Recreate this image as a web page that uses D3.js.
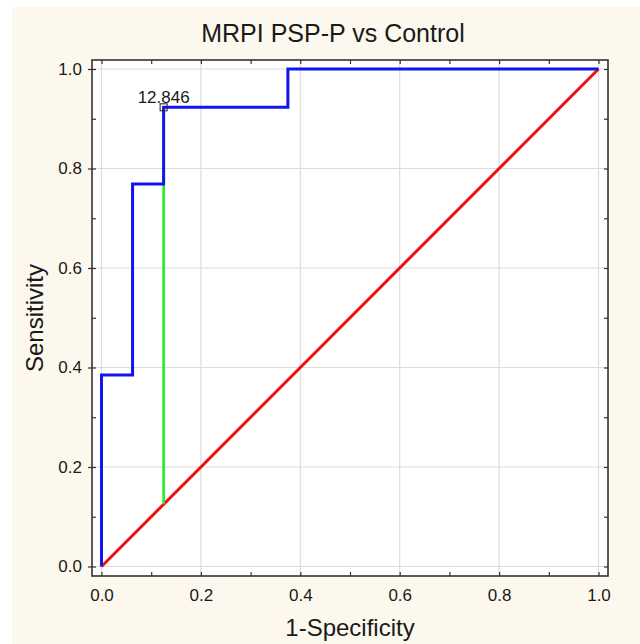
<!DOCTYPE html>
<html>
<head>
<meta charset="utf-8">
<script src="https://cdn.jsdelivr.net/npm/d3@7"></script>
<style>
  html, body { margin: 0; padding: 0; background: #ffffff; }
  svg text { font-family: "Liberation Sans", Arial, sans-serif; fill: #1a1a1a; }
</style>
</head>
<body>
<div id="chart"></div>
<script>
// ---- data ----
const rocFpr  = [0, 0, 0.0625, 0.0625, 0.125, 0.125, 0.375, 0.375, 1];
const rocTpr  = [0, 0.385, 0.385, 0.769, 0.769, 0.923, 0.923, 1, 1];
const diagX   = [0, 1];
const diagY   = [0, 1];
const cutFpr  = 0.125;
const cutTpr  = 0.923;
const cutLabel = "12.846";
const tickVals = [0, 0.2, 0.4, 0.6, 0.8, 1.0];
const minorVals = d3.range(0, 1.0001, 0.1);

const W = 640, H = 644;
const svg = d3.select("#chart").append("svg")
  .attr("width", W).attr("height", H);

// cream backdrop
svg.append("rect")
  .attr("x", 12).attr("y", 7)
  .attr("width", W - 12).attr("height", H - 7)
  .attr("fill", "#fcf8ee");

// frame box and data area
const frame = { left: 92, top: 60, right: 608, bottom: 576 };
const x = d3.scaleLinear().domain([0, 1]).range([101.5, 598.5]);
const y = d3.scaleLinear().domain([0, 1]).range([566.5, 69]);

svg.append("rect")
  .attr("x", frame.left).attr("y", frame.top)
  .attr("width", frame.right - frame.left).attr("height", frame.bottom - frame.top)
  .attr("fill", "#ffffff");

// grid
const grid = svg.append("g").attr("stroke", "#dcdcdc").attr("stroke-width", 1.2);
grid.selectAll(".gx").data(tickVals).enter().append("line")
  .attr("x1", d => x(d)).attr("x2", d => x(d))
  .attr("y1", frame.top).attr("y2", frame.bottom);
grid.selectAll(".gy").data(tickVals).enter().append("line")
  .attr("y1", d => y(d)).attr("y2", d => y(d))
  .attr("x1", frame.left).attr("x2", frame.right);

// axes: ticks inside on all four sides
const axisColor = "#333";
const isMajor = d => tickVals.some(t => Math.abs(t - d) < 1e-6);
function styleAxis(g) {
  g.attr("font-size", null).attr("font-family", null);
  g.select(".domain").remove();
  g.selectAll(".tick line").attr("stroke", axisColor).attr("stroke-width", 1.2);
  g.selectAll("text").style("font-size", "17px").attr("fill", "#1a1a1a");
}
svg.append("g")
  .attr("transform", `translate(0,${frame.bottom})`)
  .call(d3.axisBottom(x).tickValues(minorVals).tickSizeInner(-4).tickSizeOuter(0)
    .tickFormat(d => isMajor(d) ? d3.format(".1f")(d) : ""))
  .call(styleAxis)
  .selectAll("text").attr("y", 13).attr("dy", "0.71em");
svg.append("g")
  .attr("transform", `translate(0,${frame.top})`)
  .call(d3.axisTop(x).tickValues(minorVals).tickSizeInner(-4).tickSizeOuter(0).tickFormat(""))
  .call(styleAxis);
svg.append("g")
  .attr("transform", `translate(${frame.left},0)`)
  .call(d3.axisLeft(y).tickValues(minorVals).tickSizeInner(-4).tickSizeOuter(0)
    .tickFormat(d => isMajor(d) ? d3.format(".1f")(d) : ""))
  .call(styleAxis)
  .selectAll("text").attr("x", -10);
svg.append("g")
  .attr("transform", `translate(${frame.left},0)`)
  .call(d3.axisLeft(y).tickValues(tickVals).tickSize(4).tickFormat(""))
  .call(styleAxis);
svg.append("g")
  .attr("transform", `translate(${frame.right},0)`)
  .call(d3.axisRight(y).tickValues(minorVals).tickSizeInner(-4).tickSizeOuter(0).tickFormat(""))
  .call(styleAxis);

// frame border
svg.append("rect")
  .attr("x", frame.left).attr("y", frame.top)
  .attr("width", frame.right - frame.left).attr("height", frame.bottom - frame.top)
  .attr("fill", "none").attr("stroke", axisColor).attr("stroke-width", 1.6);

// diagonal reference
const line = d3.line().x(d => x(d[0])).y(d => y(d[1]));
svg.append("path")
  .datum(d3.zip(diagX, diagY))
  .attr("d", line)
  .attr("fill", "none").attr("stroke", "#f01010").attr("stroke-width", 3);

// cut-off (Youden) line
svg.append("path")
  .datum([[cutFpr, cutFpr], [cutFpr, cutTpr]])
  .attr("d", line)
  .attr("fill", "none").attr("stroke", "#22ee22").attr("stroke-width", 2.6);

// ROC curve
svg.append("path")
  .datum(d3.zip(rocFpr, rocTpr))
  .attr("d", line)
  .attr("fill", "none").attr("stroke", "#1414ee").attr("stroke-width", 3);

// cut-off marker + label
svg.append("rect")
  .attr("x", x(cutFpr) - 3.5).attr("y", y(cutTpr) - 3.5)
  .attr("width", 7).attr("height", 7)
  .attr("fill", "none").attr("stroke", "#222").attr("stroke-width", 1);
svg.append("text")
  .attr("x", x(cutFpr)).attr("y", y(cutTpr) - 4)
  .attr("text-anchor", "middle")
  .style("font-size", "17px")
  .text(cutLabel);

// titles
svg.append("text")
  .attr("x", 333).attr("y", 42)
  .attr("text-anchor", "middle")
  .style("font-size", "25px")
  .text("MRPI PSP-P vs Control");
svg.append("text")
  .attr("x", 350).attr("y", 636)
  .attr("text-anchor", "middle")
  .style("font-size", "24px")
  .text("1-Specificity");
svg.append("text")
  .attr("transform", "translate(43,318) rotate(-90)")
  .attr("text-anchor", "middle")
  .style("font-size", "24px")
  .text("Sensitivity");
</script>
</body>
</html>
